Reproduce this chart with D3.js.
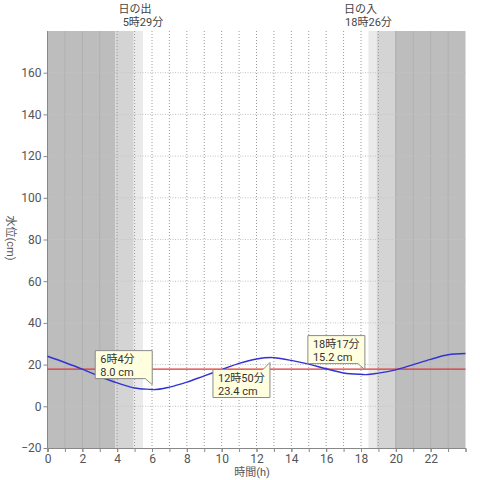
<!DOCTYPE html>
<html><head><meta charset="utf-8">
<script src="https://cdn.jsdelivr.net/npm/d3@7"></script>
<style>
html,body{margin:0;padding:0;background:#fff;}
svg text{font-family:Roboto,"Noto Sans CJK JP",sans-serif;}
</style></head>
<body>
<svg id="chart" width="480" height="480"></svg>
<script>
// ---- data ----
const hours  = [0,1,2,3,4,5,6,6.07,7,8,9,10,11,12,12.83,13,14,15,16,17,18,18.28,19,20,21,22,23,24];
const levels = [24.0,21.0,17.8,14.3,11.2,8.8,8.05,8.0,9.2,11.6,14.6,17.6,20.6,22.7,23.4,23.3,22.0,20.2,18.0,16.0,15.3,15.2,15.9,17.5,20.0,22.5,24.7,25.3];
const meanLevel = 17.8;
const extremeHours = [6.07, 12.83, 18.28];
const extremeLevels = [8.0, 23.4, 15.2];
const extremeTimeLabels = ["6時4分", "12時50分", "18時17分"];
const extremeKinds = ["low", "high", "low"];
const bandStart = [0, 3.9, 4.95, 18.43, 18.9, 19.93];
const bandEnd   = [3.9, 4.95, 5.48, 18.9, 19.93, 24];
const bandDarkness = [3, 2, 1, 1, 2, 3];
const sunHours = [5.48, 18.43];
const sunTitles = ["日の出", "日の入"];
const sunTimeLabels = ["5時29分", "18時26分"];
const yTicks = [-20,0,20,40,60,80,100,120,140,160];
const xTicks = [0,2,4,6,8,10,12,14,16,18,20,22];

// ---- layout ----
const svg = d3.select("#chart");
const L = 47.5, R = 465.5, T = 31, B = 448;
const x = d3.scaleLinear().domain([0,24]).range([L,R]);
const y = d3.scaleLinear().domain([-20,180]).range([B,T]);
const shade = {1:"#eaeaea", 2:"#d4d4d4", 3:"#bdbdbd"};

// bands
svg.append("g").selectAll("rect").data(bandStart).join("rect")
  .attr("x", (d)=>x(d)).attr("y", T)
  .attr("width", (d,i)=>x(bandEnd[i])-x(d)).attr("height", B-T)
  .attr("fill", (d,i)=>shade[bandDarkness[i]]);

// grid
const hourGrid = d3.range(1,24);
const darkAt = h => bandStart.some((s,i)=>bandDarkness[i]===3 && h>s && h<bandEnd[i]);
svg.append("g").selectAll("line").data(hourGrid.filter(darkAt)).join("line")
  .attr("x1", d=>x(d)).attr("x2", d=>x(d)).attr("y1", T).attr("y2", B)
  .attr("stroke", "#b0b0b0").attr("stroke-width", 1);
svg.append("g").selectAll("line").data(hourGrid.filter(h=>!darkAt(h))).join("line")
  .attr("x1", d=>x(d)).attr("x2", d=>x(d)).attr("y1", T).attr("y2", B)
  .attr("stroke", "#9a9a9a").attr("stroke-width", 1).attr("stroke-dasharray", "1,2");
svg.append("g").selectAll("line").data(yTicks.filter(v=>v>-20)).join("line")
  .attr("x1", L).attr("x2", R).attr("y1", d=>y(d)).attr("y2", d=>y(d))
  .attr("stroke", "#c4c4c4").attr("stroke-width", 1).attr("stroke-dasharray", "1,1.5");

// axes
const yAxis = svg.append("g").attr("transform", `translate(${L},0)`)
  .call(d3.axisLeft(y).tickValues(yTicks).tickSize(4).tickPadding(2));
const xAxisMinor = svg.append("g").attr("transform", `translate(0,${B})`)
  .call(d3.axisBottom(x).tickValues(d3.range(0,24)).tickSize(4).tickFormat(""));
const xAxis = svg.append("g").attr("transform", `translate(0,${B})`)
  .call(d3.axisBottom(x).tickValues(xTicks).tickSize(4).tickPadding(2));
[yAxis, xAxis, xAxisMinor].forEach(g=>{
  g.select(".domain").attr("stroke", "#888");
  g.selectAll(".tick line").attr("stroke", "#888");
  g.selectAll(".tick text").attr("fill", "#555").attr("font-size", 12);
});
yAxis.select(".domain").attr("d", `M0,${T}V${B}`);

// mean line
svg.append("line").attr("x1", L).attr("x2", R).attr("y1", y(meanLevel)).attr("y2", y(meanLevel))
  .attr("stroke", "#e03535").attr("stroke-width", 1.2);

// tide curve
const pts = hours.map((h,i)=>[h, levels[i]]);
svg.append("path").datum(pts)
  .attr("d", d3.line().x(d=>x(d[0])).y(d=>y(d[1])).curve(d3.curveMonotoneX))
  .attr("fill", "none").attr("stroke", "#3232d0").attr("stroke-width", 1.4);

// axis titles
svg.append("text").attr("x", 252).attr("y", 476).attr("text-anchor", "middle")
  .attr("font-size", 11).attr("fill", "#555").text("時間(h)");
svg.append("text").attr("transform", "translate(7,238) rotate(90)").attr("text-anchor", "middle")
  .attr("font-size", 11).attr("fill", "#555").text("水位(cm)");

// sunrise / sunset labels
sunHours.forEach((h,i)=>{
  svg.append("text").attr("x", x(h)-8).attr("y", 13).attr("text-anchor", "middle")
    .attr("font-size", 11).attr("fill", "#444").text(sunTitles[i]);
  svg.append("text").attr("x", x(h)).attr("y", 26).attr("text-anchor", "middle")
    .attr("font-size", 11).attr("fill", "#444").text(sunTimeLabels[i]);
});

// callouts
extremeHours.forEach((h,i)=>{
  const px = x(h) - 1, py = y(extremeLevels[i]);
  const line1 = extremeTimeLabels[i], line2 = extremeLevels[i].toFixed(1) + " cm";
  const g = svg.append("g");
  const t1 = g.append("text").attr("font-size", 11).attr("fill", "#333").text(line1);
  const t2 = g.append("text").attr("font-size", 11).attr("fill", "#333").text(line2);
  const w = Math.max(57, Math.max(t1.node().getComputedTextLength(), t2.node().getComputedTextLength()) + 10);
  const hgt = 28;
  const left = px - w;
  let top, d;
  if (extremeKinds[i] === "low") {
    const bottom = py - 11; top = bottom - hgt;
    d = `M${left},${top}H${px}V${py-5}L${px-7},${bottom}H${left}Z`;
  } else {
    top = py + 12; const bottom = top + hgt;
    d = `M${left},${top}H${px-7}L${px},${py+5}V${bottom}H${left}Z`;
  }
  g.insert("path", "text").attr("d", d).attr("fill", "#ffffe0").attr("stroke", "#8a8a8a").attr("stroke-width", 1);
  t1.attr("x", left + 5).attr("y", top + 12);
  t2.attr("x", left + 5).attr("y", top + 25);
});
</script>
</body></html>
